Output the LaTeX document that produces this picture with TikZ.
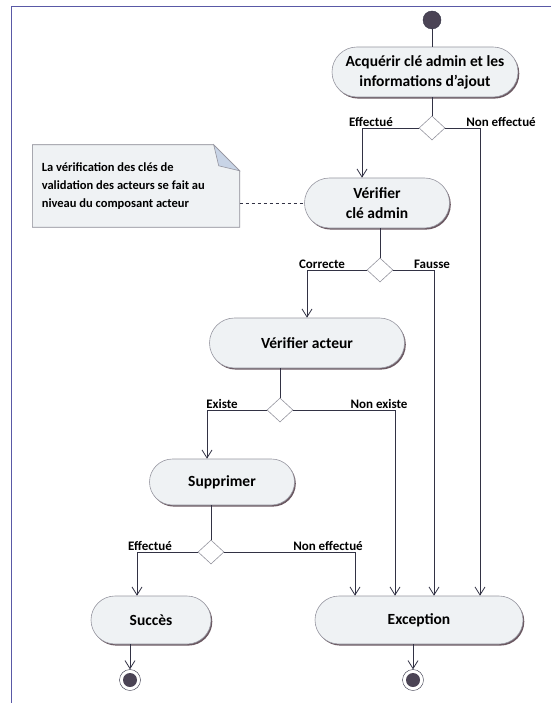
\documentclass[tikz,border=0pt]{standalone}
\usepackage{fontspec}
\setmainfont{Carlito}
\usepackage{tikz}
\usetikzlibrary{shapes, arrows.meta, shadows, calc}
\definecolor{actfill}{RGB}{239,242,244}
\definecolor{actline}{RGB}{150,150,160}
\definecolor{flowline}{RGB}{50,50,68}
\definecolor{shade}{RGB}{90,70,80}
\definecolor{startfill}{RGB}{75,68,85}
\definecolor{foldfill}{RGB}{200,212,230}

\begin{document}
\begin{tikzpicture}[x=1pt, y=-1pt,
	action/.style={rounded rectangle, draw=actline, line width=0.6pt, fill=actfill,
		drop shadow={shadow xshift=1.3pt, shadow yshift=-1.6pt, fill=shade, opacity=0.9},
		font=\fontsize{15.5}{20}\selectfont\bfseries, align=center, inner sep=0pt},
	decision/.style={diamond, draw=actline, line width=0.6pt, fill=white,
		minimum width=26pt, minimum height=24pt, inner sep=0pt},
	guard/.style={anchor=south, inner sep=1.5pt, font=\fontsize{13}{15}\selectfont\bfseries},
	flow/.style={draw=flowline, line width=0.8pt, -{Straight Barb[length=8pt, width=10pt]}},
	link/.style={draw=flowline, line width=0.8pt}]
	\useasboundingbox (0,0) rectangle (555,703);
	\draw[gray!70!blue, line width=0.5pt] (551,6) -- (11,6) -- (11,703);

	\node[circle, draw=flowline, fill=startfill, minimum size=18pt, inner sep=0pt] (start) at (432,20) {};
	\node[action, minimum width=186pt, minimum height=50pt] (acq) at (425,72) {Acquérir clé admin et les\\informations d’ajout};
	\node[decision] (d1) at (432,128) {};
	\node[action, minimum width=145pt, minimum height=50pt] (verif) at (377,203) {Vérifier\\clé admin};
	\node[decision] (d2) at (380,270) {};
	\node[action, minimum width=195pt, minimum height=50pt] (vact) at (307,343) {Vérifier acteur};
	\node[decision] (d3) at (280,410) {};
	\node[action, minimum width=145pt, minimum height=46pt] (supp) at (222,482) {Supprimer};
	\node[decision] (d4) at (211,552) {};
	\node[action, minimum width=120pt, minimum height=48pt] (succ) at (151,620) {Succès};
	\node[action, minimum width=208pt, minimum height=48pt] (exc) at (419,620) {Exception};

	\node[circle, draw=flowline, fill=white, minimum size=21pt, inner sep=0pt] (end1) at (130,680) {};
	\node[circle, fill=startfill, minimum size=14pt, inner sep=0pt] at (end1) {};
	\node[circle, draw=flowline, fill=white, minimum size=21pt, inner sep=0pt] (end2) at (413,680) {};
	\node[circle, fill=startfill, minimum size=14pt, inner sep=0pt] at (end2) {};

	% note attached to the key check, with its folded corner
	\node[minimum width=207pt, minimum height=82pt, inner sep=0pt] (note) at (136,186) {};
	\fill[shade, opacity=0.9, shift={(1.5,1.8)}] (note.north west) -- ([shift={(-26,0)}]note.north east) -- ([shift={(0,26)}]note.north east) -- (note.south east) -- (note.south west) -- cycle;
	\filldraw[draw=actline, line width=0.6pt, fill=actfill] (note.north west) -- ([shift={(-26,0)}]note.north east) -- ([shift={(0,26)}]note.north east) -- (note.south east) -- (note.south west) -- cycle;
	\filldraw[draw=actline, line width=0.6pt, fill=foldfill] ([shift={(-26,0)}]note.north east) -- ([shift={(0,26)}]note.north east) -- ([shift={(-21,21)}]note.north east) -- cycle;
	\node[anchor=west, align=left, font=\fontsize{12.5}{18}\selectfont\bfseries] (notetext) at ([xshift=6pt]note.west) {La vérification des clés de\\validation des acteurs se fait au\\niveau du composant acteur};
	\draw[link, dashed] (note.east |- verif) -- (verif.west);

	\draw[link] (start) -- (start |- acq.north);
	\draw[link] (d1 |- acq.south) -- (d1.north);
	\draw[flow] (d1.west) -| ([xshift=-15pt]verif.north);
	\draw[flow] (d1.east) -| ([xshift=61pt]exc.north);
	\draw[link] (d2 |- verif.south) -- (d2.north);
	\draw[flow] (d2.west) -| (vact.north);
	\draw[flow] (d2.east) -| ([xshift=15pt]exc.north);
	\draw[link] (d3 |- vact.south) -- (d3.north);
	\draw[flow] (d3.west) -| ([xshift=-15pt]supp.north);
	\draw[flow] (d3.east) -| ([xshift=-24pt]exc.north);
	\draw[link] (d4 |- supp.south) -- (d4.north);
	\draw[flow] (d4.west) -| ([xshift=-14pt]succ.north);
	\draw[flow] (d4.east) -| ([xshift=-64pt]exc.north);
	\draw[flow] (end1 |- succ.south) -- (end1.north);
	\draw[flow] (end2 |- exc.south) -- (end2.north);

	\node[guard] (g1) at (371,128) {Effectué};
	\node[guard] (g2) at (501,128) {Non effectué};
	\node[guard] (g3) at (322,270) {Correcte};
	\node[guard] (g4) at (432,270) {Fausse};
	\node[guard] (g5) at (222,410) {Existe};
	\node[guard] (g6) at (379,410) {Non existe};
	\node[guard] (g7) at (150,552) {Effectué};
	\node[guard] (g8) at (328,552) {Non effectué};
\end{tikzpicture}
\end{document}
